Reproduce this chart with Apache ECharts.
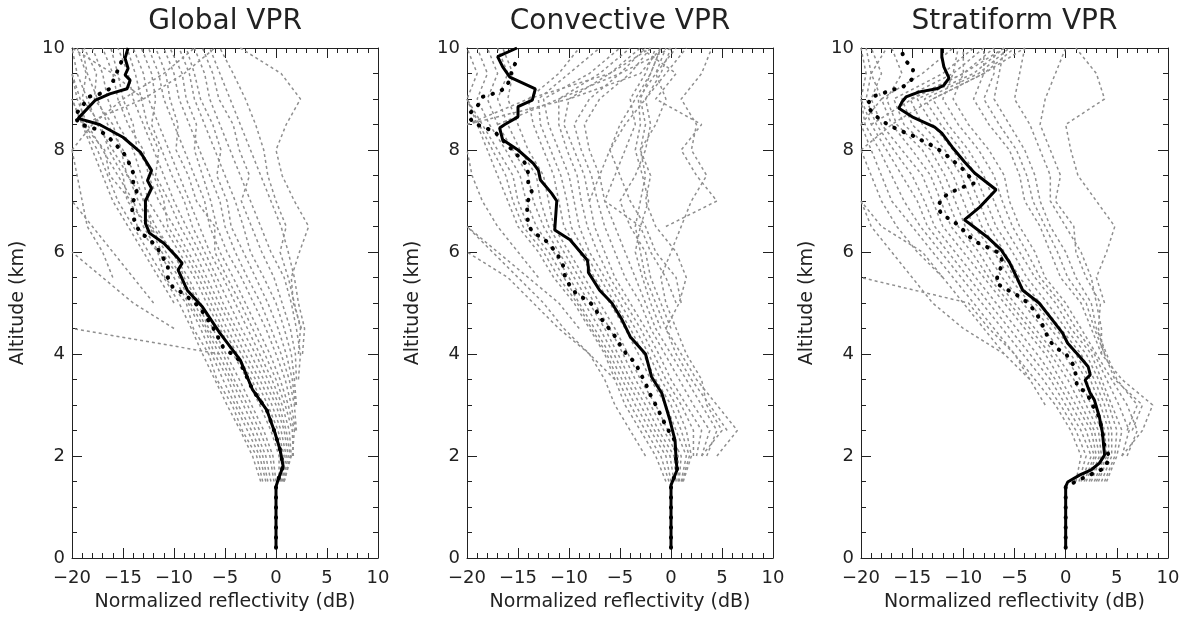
<!DOCTYPE html>
<html><head><meta charset="utf-8">
<script src="https://cdn.jsdelivr.net/npm/echarts@6/dist/echarts.min.js"></script>
<style>html,body{margin:0;padding:0;background:#fff}#c{width:1191px;height:618px}</style>
</head><body><div id="c"></div>
<script>
// ---------------- data ----------------
const PANEL_TITLES = ['Global VPR', 'Convective VPR', 'Stratiform VPR'];
const X_NAME = 'Normalized reflectivity (dB)';
const Y_NAME = 'Altitude (km)';
const X_RANGE = [-20, 10];
const Y_RANGE = [0, 10];

// altitude levels shared by the grey individual profiles (km)
const ALT_GREY = [1.5, 2, 2.5, 3, 3.5, 4, 4.5, 5, 5.5, 6, 6.5, 7, 7.5, 8, 8.5, 9, 9.5, 10];

// ---- Global VPR ----
const GLOBAL_GREY = [
  [-1.5,-2.3,-3.5,-4.8,-6.0,-7.2,-8.3,-9.5,-11,-12.5,-14,-15.5,-16.5,-17.5,-19,-20,null,null],
  [-1.3,-1.9,-3.3,-4.3,-5.8,-6.6,-8.1,-8.8,-10.9,-11.6,-13.6,-14.2,-16.3,-16.8,-18.9,-19.2,-20,null],
  [-1.0,-1.6,-2.8,-4.0,-5.2,-6.3,-7.4,-8.6,-10,-11.5,-13,-14,-15.5,-17,-18.5,-19.5,-20,null],
  [-0.8,-1.3,-2.4,-3.7,-4.7,-6.0,-7.0,-8.4,-9.5,-11.2,-12.4,-14.6,-15.0,-16.4,-17.2,-19.0,-18.6,-19.5],
  [-0.5,-1.0,-2.0,-3.2,-4.4,-5.6,-6.8,-8.0,-9.2,-10.8,-12.3,-13.5,-14.5,-16,-17.5,-18.5,-19.5,-20],
  [-0.2,-0.6,-1.6,-2.8,-4.1,-5.2,-6.6,-7.6,-9.0,-10.0,-12.2,-12.8,-14.6,-15.2,-16.0,-17.8,-17.6,-18.8],
  [0,-0.3,-1.2,-2.4,-3.6,-4.9,-6.2,-7.4,-8.6,-10.2,-11.8,-13,-13.8,-15,-16.5,-17.5,-18.5,-19],
  [0.3,0.3,-0.5,-1.6,-2.8,-4.2,-5.5,-6.8,-8.0,-9.5,-11,-12.5,-13.2,-14,-15.5,-16.5,-17,-18],
  [0.4,0.6,-0.1,-1.2,-2.4,-3.8,-5.2,-6.4,-7.6,-9.0,-10.6,-11.0,-12.0,-13.6,-14.0,-15.0,-15.5,-16.2],
  [0.5,0.8,0.2,-0.8,-2.0,-3.4,-4.8,-6.0,-7.2,-8.6,-10,-11.5,-12.5,-13,-14.5,-15.5,-16,-17],
  [0.6,1.0,0.5,-0.4,-1.6,-3.0,-4.3,-5.6,-6.8,-8.0,-9.4,-10.5,-11.8,-11.5,-12.6,-13.2,-13.8,-14.6],
  [0.7,1.2,0.8,0,-1.2,-2.5,-3.9,-5.2,-6.2,-7.5,-8.8,-10,-11,-12,-13,-14,-14.5,-15.5],
  [0.8,1.4,1.0,0.3,-0.8,-2.0,-3.4,-4.6,-5.8,-7.0,-8.2,-9.0,-10.2,-11.2,-12.2,-11.8,-12.2,-13.2],
  [0.8,1.5,1.3,0.6,-0.4,-1.6,-2.8,-4.0,-5.2,-6.5,-7.5,-8.5,-9.5,-10.5,-11.5,-12.5,-13,-14],
  [null,1.6,1.8,1.2,0.4,-0.6,-1.8,-3.0,-4.2,-5.5,-6.5,-7.0,-8.0,-9.0,-10,-11,-11.5,-12.5],
  [null,1.7,1.6,0.9,0.0,-1.1,-2.3,-3.5,-4.8,-6.0,-6.0,-7.8,-8.6,-9.8,-9.6,-10.4,-10.8,-11.8],
  [null,null,2.0,1.8,1.3,0.5,-0.5,-1.5,-2.8,-4.0,-5,-5.5,-6.5,-7.5,-8.5,-9.5,-10,-11],
  [null,null,1.9,1.5,0.9,0.0,-1.0,-2.2,-3.4,-4.8,-5.8,-6.4,-7.2,-8.0,-7.8,-8.8,-9.2,-10.4],
  [null,null,null,2.0,1.8,1.5,0.8,0,-1.2,-2.5,-3.2,-4,-5.0,-6.0,-7,-8,-8.5,-9.5],
  [null,null,null,1.9,1.6,1.0,0.2,-0.8,-2.0,-3.2,-4.4,-4.8,-5.8,-5.4,-6.2,-7.4,-8.0,-8.8],
  [null,null,null,null,2.2,2.4,2.0,1.5,0.8,-0.5,-1.5,-2.5,-3.5,-4.5,-5.5,-6.5,-7,-8],
  [null,null,null,null,2.0,1.9,1.4,0.6,-0.2,-1.4,-2.4,-3.4,-2.6,-3.6,-4.2,-5.6,-6.2,-7.2],
  [null,null,null,null,null,2.6,2.8,2.2,1.8,1.2,0.5,-0.5,-1.5,-2.5,-3.5,-4.5,-5.5,-6.5],
  [null,null,null,null,null,2.2,2.4,1.8,1.2,0.4,1.0,0.0,-0.8,-1.2,-2.0,-3.0,-4.2,-5.5],
  [null,null,null,null,null,null,2.5,1.7,1.5,2.3,3.2,1.8,0.6,0,1.0,2.4,0.5,-3.5],
  [null,null,null,null,null,-5.5,-20,null,null,null,null,null,null,null,null,null,null,null],
  [null,null,null,null,null,null,null,-12,-14,-16,-18,-20,null,null,null,null,null,null],
  [null,null,null,null,null,null,-10,-14,-17,-20,null,null,null,null,null,null,null,null],
  [null,null,null,null,null,null,null,-10,-11.5,-13,-14.5,-16,-17,-18,-19,-20,null,null],
  [null,null,null,null,null,null,null,null,-16,-17,-18.5,-19,-19.5,-20,null,null,null,null],
  [null,null,null,null,null,null,null,null,null,null,null,null,null,-20,-18,-15,-11,-8],
  [null,null,null,null,null,null,null,null,null,null,null,null,null,null,-19,-13,-9,-6],
  [null,null,null,null,null,null,null,null,null,null,null,null,null,null,null,-13,-16,-20]
];
const GLOBAL_MEAN_ALT = [0.2,1.4,1.53,1.8,2.12,2.45,2.9,3.3,3.88,4.41,4.92,5.25,5.65,5.78,5.9,6.17,6.37,6.56,7.0,7.25,7.4,7.6,7.96,8.25,8.5,8.62,8.98,9.1,9.2,9.37,9.47,9.6,9.8,10.0];
const GLOBAL_MEAN_X   = [0,0,0.2,0.7,0.4,-0.1,-0.9,-2.3,-3.5,-5.5,-7.2,-8.7,-9.6,-9.2,-9.7,-11.0,-12.4,-12.8,-12.8,-12.2,-12.6,-12.2,-13.3,-15.0,-17.3,-19.4,-17.7,-16.3,-14.6,-14.3,-14.8,-14.5,-14.8,-14.5];
const GLOBAL_MED_ALT = [0.2,1.4,1.53,1.8,2.12,2.45,2.9,3.3,3.88,4.14,4.53,4.92,5.06,5.2,5.3,5.5,5.7,5.9,6.1,6.27,6.37,6.56,6.76,6.96,7.15,7.35,7.55,7.7,7.9,8.06,8.25,8.4,8.45,8.53,8.69,8.85,9.04,9.1,9.2,9.57,9.76,9.9];
const GLOBAL_MED_X   = [0,0,0.2,0.7,0.4,-0.1,-0.9,-2.3,-3.6,-5.2,-6.2,-7.5,-8.3,-9.2,-10.1,-10.6,-10.6,-11.1,-11.7,-12.5,-13.3,-13.8,-14.1,-14.1,-13.6,-14.0,-14.0,-14.3,-14.8,-15.5,-16.4,-17.4,-18.4,-19.4,-19.7,-19.0,-18.4,-17.3,-16.3,-15.5,-15.1,-14.9];

// ---- Convective VPR ----
const CONV_GREY = [
  [-0.5,-1.5,-3,-4.5,-5.5,-6.5,-8,-9.5,-11.5,-13,-15,-16,-17,-18,-19,-20,null,null],
  [-0.2,-1.0,-2.5,-4.0,-5.2,-6.3,-7.8,-9.2,-11,-12.5,-14.5,-15.5,-16.2,-17.5,-18.8,-20,null,null],
  [0,-0.5,-2,-3.5,-4.8,-6,-7.5,-9,-10.5,-12,-14,-15,-15.5,-17,-18.5,-20,-19,-20],
  [0.3,-0.1,-1.6,-3.0,-4.4,-5.6,-7.0,-8.5,-10,-11.5,-13.2,-14.2,-14.8,-16.2,-17.8,-19,-18,-19],
  [0.5,0.3,-1.2,-2.5,-4,-5.2,-6.5,-8,-9.5,-11,-12.5,-13.5,-14,-15.5,-17,-18,-17,-18],
  [0.7,0.7,-0.7,-2.0,-3.5,-4.7,-6.0,-7.5,-9,-10.5,-12,-12.8,-13.2,-14.8,-16,-17,-16,-17],
  [0.8,1.0,-0.3,-1.5,-3,-4.2,-5.5,-7,-8.5,-10,-11.5,-12,-12.5,-14,-15,-16,-15.5,-16.5],
  [1.0,1.5,0.5,-0.5,-2,-3.2,-4.5,-6,-7.5,-9,-10.5,-11,-11.5,-12.5,-13.5,-14,-11,-9],
  [1.1,1.8,1.0,0.0,-1.5,-2.7,-4.0,-5.5,-7,-8.5,-9.8,-10.2,-10.8,-11.8,-12.8,-13,-10,-7],
  [1.2,2.0,1.5,0.5,-1,-2.2,-3.5,-5,-6.5,-8,-9,-9.5,-10,-11,-12,-12.5,-8,-5],
  [null,2.2,2.2,1.0,-0.5,-1.7,-3.0,-4.5,-6,-7.2,-8.2,-8.8,-9.2,-10.2,-11,-11,-7,-4],
  [null,2.5,3.0,1.5,0,-1.2,-2.5,-4,-5.5,-6.5,-7.5,-8,-8.5,-9.5,-10.5,-10,-6,-3],
  [null,3.0,3.8,2.2,0.8,-0.6,-2.0,-3.0,-4.5,-5.5,-6.5,-7.2,-7.8,-8.8,-9.5,-8,-5,-2.5],
  [null,3.5,4.5,3.0,1.5,0,-1.5,-2.5,-3.5,-4.5,-5.5,-6.5,-7,-8,-8.5,-7,-4,-2],
  [null,4.5,6.5,4.5,2.5,1.0,-0.5,-1.5,-2.5,-3,-3.5,-3,-2.5,-3,-2.5,-3,-2,-1],
  [null,3.0,5.0,3.5,3.0,1.5,0.5,-0.5,-1.0,0.0,1.0,2.0,3.5,2.0,2.5,1.0,3.0,4.0],
  [null,null,5.5,3.8,2.0,0.5,-0.5,0.8,1.5,0.5,-1.5,-2.5,-2,-3,-1.5,-0.5,-1.5,-0.5],
  [null,null,null,null,null,null,-1.0,-2.0,-2.8,-3.5,-3.0,-2.2,-2.8,-3.5,-3.0,-3.2,-1.5,0.5],
  [null,null,null,null,null,null,0,-1.0,-2.0,-2.5,-4.0,-5.0,-3.5,-2.5,-2.0,-2.5,-0.5,1.5],
  [null,null,null,null,null,null,null,0.5,-0.5,-2.0,-3.0,-6.5,-5.5,-4.5,-3.5,-4.0,-2.5,-1.5],
  [null,null,null,null,null,null,null,1.0,0.5,-1.5,-2.5,-4,-5,-6,-4.5,-2.5,-1,0],
  [null,null,null,null,null,null,null,null,null,null,null,-8,-7,-6,-5,-3.5,-2,-1],
  [null,null,null,null,null,null,null,null,null,null,-0.5,4.5,2.5,1.0,3.0,-1.5,0.5,-3],
  [null,null,null,null,null,null,null,null,null,null,null,null,null,null,-20,-10,-3,-1],
  [null,null,null,null,null,null,null,null,null,null,null,null,null,null,-20,-14,-6,-2],
  [null,null,null,null,null,null,null,null,null,null,null,null,null,null,-17,-11,-5,0],
  [null,-2.5,-4.0,-5.5,-6.5,-8.0,-10.5,-12.5,-15,-17.5,-20,null,null,null,null,null,null,null],
  [null,null,null,null,-5.5,-8,-11,-13.5,-16,-20,null,null,null,null,null,null,null,null],
  [null,null,null,null,null,null,-9,-11,-14,-17,-20,null,null,null,null,null,null,null],
  [null,null,null,null,null,null,null,null,-13,-15,-17,-18.5,-19.5,-20,null,null,null,null]
];
const CONV_MEAN_ALT = [0.2,1.43,1.53,1.73,1.92,2.3,2.7,3.23,3.55,4.0,4.34,4.67,5.0,5.25,5.6,5.7,5.84,6.24,6.43,7.0,7.15,7.41,7.6,7.74,8.0,8.2,8.43,8.5,8.65,8.85,8.98,9.2,9.43,9.63,9.83,10.0];
const CONV_MEAN_X   = [0,0,0.2,0.6,0.5,0.4,-0.1,-0.9,-1.9,-2.5,-4.0,-4.8,-5.8,-7.0,-8.1,-8.1,-8.2,-9.9,-11.4,-11.2,-11.7,-12.8,-13.0,-13.5,-15.0,-16.5,-16.8,-16.3,-15.0,-15.0,-13.6,-13.3,-15.8,-16.5,-17.0,-15.1];
const CONV_MED_ALT = [0.2,1.43,1.53,1.73,1.92,2.3,2.45,2.63,2.84,3.04,3.23,3.43,3.62,3.83,3.98,4.18,4.35,4.53,4.73,4.92,5.06,5.16,5.33,5.53,5.75,5.94,6.1,6.27,6.37,6.53,6.76,6.98,7.16,7.35,7.55,7.74,8.36,8.45,8.53,8.69,8.85,9.04,9.1,9.2,9.37,9.57,9.76];
const CONV_MED_X   = [0,0,0.2,0.6,0.5,0.4,-0.1,-0.6,-1.1,-1.6,-2.1,-2.5,-3.0,-3.5,-4.3,-5.0,-5.5,-6.2,-7.0,-7.5,-8.2,-9.2,-9.9,-10.4,-10.6,-11.1,-11.7,-12.5,-13.5,-14.0,-14.1,-14.1,-13.6,-14.0,-14.0,-14.3,-17.3,-18.4,-19.4,-19.9,-19.0,-18.5,-17.5,-16.3,-15.8,-15.6,-15.1];

// ---- Stratiform VPR ----
const STRAT_GREY = [
  [1.0,1.5,0.5,-1,-3,-5,-7,-9,-11,-13,-15,-17,-18,-19,-20,null,null,null],
  [1.3,2.0,1.0,-0.5,-2.2,-4.2,-6.2,-8.2,-10.2,-12.2,-14.2,-15.8,-17,-18.2,-19.6,-20,null,null],
  [1.5,2.5,1.5,0,-1.5,-3.5,-5.5,-7.5,-9.5,-11.5,-13.5,-14.5,-16,-17.5,-19,-20,-19.5,-20],
  [1.8,2.8,2.0,0.5,-1.0,-2.8,-4.8,-6.8,-8.8,-10.8,-12.8,-13.8,-15,-16.8,-18.5,-19.5,-19,-19.5],
  [2.0,3.0,2.5,1.0,-0.5,-2,-4,-6,-8,-10,-12,-13,-14,-16,-18,-19,-18,-19],
  [2.3,3.3,2.8,1.5,0.2,-1.5,-3.5,-5.5,-7.5,-9.2,-11.2,-12.2,-13.2,-15,-17,-18,-14,-11],
  [2.5,3.5,3.2,2.0,0.8,-1,-3,-5,-7,-8.5,-10.5,-11.5,-12.5,-14,-16.5,-17.5,-16,-17],
  [2.8,3.8,3.5,2.5,1.4,-0.2,-2.2,-4.2,-6.2,-7.8,-9.8,-10.8,-11.8,-13.2,-15.8,-16.8,-12,-9],
  [3.0,4.0,3.8,3.0,2.0,0.5,-1.5,-3.5,-5.5,-7,-9,-10,-11,-12.5,-15,-16,-11,-8],
  [3.2,4.2,4.2,3.4,2.4,1.0,-1.0,-3.0,-5.0,-6.5,-8.2,-9.2,-10.2,-11.8,-14,-15.2,-10,-7],
  [3.5,4.5,4.5,3.8,2.8,1.5,-0.5,-2.5,-4.5,-6,-7.5,-8.5,-9.5,-11,-13,-14.5,-9,-6],
  [3.8,4.8,5.0,4.2,3.2,2.0,0,-1.8,-3.8,-5.2,-6.8,-7.8,-8.8,-10.2,-12.2,-13.8,-8.5,-5.5],
  [4.0,5.0,5.5,4.5,3.5,2.5,0.5,-1,-3,-4.5,-6,-7,-8,-9.5,-11.5,-13,-8,-5],
  [null,5.5,6.2,5.2,4.0,2.8,1.0,-0.5,-2.5,-3.8,-5.2,-6.2,-7.0,-8.5,-10.5,-12,-11,-10.5],
  [null,6.0,7.0,6.0,4.5,3.0,1.5,0,-2,-3,-4.5,-5.5,-6,-7.5,-9.5,-11,-10,-10],
  [null,5.5,7.5,8.5,5.5,3.5,2.5,1.5,-0.5,-1.5,-2.5,-4,-4.5,-5.5,-7.5,-9,-8,-8],
  [null,null,6.5,7.5,4.8,3.8,2.8,2.0,0.2,-0.8,-2.0,-3.2,-3.8,-4.8,-6.5,-8,-7,-7],
  [null,null,6.0,7.0,5.0,4.0,3.0,2.5,1.0,0,-1.5,-2.5,-3,-4,-5.5,-7,-6.5,-6],
  [null,null,null,null,null,3.5,3.5,3.0,2.5,1.5,0,-1.5,-1.5,-2.5,-3.5,-5,-4.5,-4],
  [null,null,null,null,null,3.8,3.2,3.4,2.0,1.0,0.8,-1.0,-0.5,-1.5,-2.5,-2.0,-1,0],
  [null,null,null,null,null,null,null,3.8,3.0,4.0,4.8,3.0,1.2,0.5,0.0,3.8,3.0,1.0],
  [null,null,null,null,null,-6,-8,-10,-12,-14,-18,-20,null,null,null,null,null,null],
  [null,null,null,null,-3.5,-5,-7.5,-9.5,-20,null,null,null,null,null,null,null,null,null],
  [null,null,null,-2,-3.5,-6,-10,-13,-15,-17,-19,-20,null,null,null,null,null,null],
  [null,null,null,null,null,null,null,null,-12,-14.5,-16.5,-18,-19,-20,null,null,null,null],
  [null,null,null,null,null,null,null,null,null,null,null,null,null,-20,-17,-13,-8,-4],
  [null,null,null,null,null,null,null,null,null,null,null,null,null,null,-19,-15,-10,-6],
  [null,null,null,null,null,null,null,null,null,null,null,null,null,null,-20,-18,-19,-17.5]
];
const STRAT_MEAN_ALT = [0.2,1.4,1.49,1.63,1.73,1.86,2.02,2.45,2.76,3.1,3.23,3.49,3.59,3.75,3.94,4.21,4.41,4.67,5.0,5.25,5.51,5.8,6.04,6.3,6.56,6.63,6.88,7.22,7.55,7.77,8.06,8.33,8.45,8.65,8.82,8.94,9.04,9.14,9.2,9.27,9.41,9.63,9.83,10.0];
const STRAT_MEAN_X   = [0,0,0.2,1.4,2.5,3.3,3.8,3.6,3.3,2.8,2.4,1.9,2.4,2.2,1.4,0.2,-0.3,-1.3,-2.6,-4.2,-4.8,-5.5,-6.3,-7.7,-9.4,-9.9,-8.4,-6.8,-8.9,-9.9,-11.1,-12.1,-12.8,-15.0,-16.3,-16.0,-15.6,-14.3,-12.6,-11.9,-11.4,-11.9,-12.1,-12.1];
const STRAT_MED_ALT = [0.2,1.4,1.49,1.57,1.67,1.76,1.98,2.18,2.45,2.76,3.04,3.23,3.37,3.59,3.8,3.98,4.12,4.26,4.45,4.67,4.84,5.02,5.16,5.27,5.39,5.59,5.78,5.98,6.08,6.17,6.3,6.47,6.61,6.73,6.88,7.06,7.18,7.27,7.35,7.6,7.77,7.94,8.06,8.16,8.27,8.35,8.45,8.55,8.69,8.86,9.04,9.1,9.18,9.22,9.39,9.6,9.76,9.92];
const STRAT_MED_X   = [0,0,0.9,1.7,2.8,3.8,4.3,3.8,3.6,3.3,2.5,2.1,1.1,1.0,0.7,0.1,-0.9,-1.6,-2.0,-2.5,-3.0,-3.8,-4.8,-5.8,-6.8,-6.6,-6.1,-6.5,-7.5,-8.5,-9.4,-10.2,-11.0,-12.1,-12.5,-12.1,-11.1,-10.1,-8.9,-9.9,-10.9,-11.9,-12.8,-13.8,-14.8,-15.8,-16.9,-17.8,-18.7,-19.4,-19.0,-18.0,-17.0,-16.0,-15.0,-14.9,-15.7,-16.0];

// ---------------- chart ----------------
const PANELS = [
  {grey: GLOBAL_GREY, meanAlt: GLOBAL_MEAN_ALT, meanX: GLOBAL_MEAN_X, medAlt: GLOBAL_MED_ALT, medX: GLOBAL_MED_X},
  {grey: CONV_GREY, meanAlt: CONV_MEAN_ALT, meanX: CONV_MEAN_X, medAlt: CONV_MED_ALT, medX: CONV_MED_X},
  {grey: STRAT_GREY, meanAlt: STRAT_MEAN_ALT, meanX: STRAT_MEAN_X, medAlt: STRAT_MED_ALT, medX: STRAT_MED_X}
];
const GRID_POS = [
  {left: 72, top: 48, width: 306, height: 510},
  {left: 467, top: 48, width: 306, height: 510},
  {left: 861, top: 48, width: 307, height: 510}
];
const FONT = 'DejaVu Sans';
const INK = '#222';
const minus = v => (v < 0 ? '\u2212' + Math.abs(v) : String(v));

const grid = [], xAxis = [], yAxis = [], series = [], title = [];
GRID_POS.forEach((g, i) => {
  grid.push(Object.assign({containLabel: false}, g));
  title.push({
    text: PANEL_TITLES[i], left: g.left + g.width / 2, top: 8, textAlign: 'center', padding: 0,
    textStyle: {fontFamily: FONT, fontSize: 28, fontWeight: 'normal', color: INK}
  });
  const tickCommon = {
    axisLine: {show: true, onZero: false, lineStyle: {color: INK, width: 1}},
    axisTick: {show: true, inside: true, length: 10, lineStyle: {color: INK, width: 1}},
    minorTick: {show: true, length: 5, lineStyle: {color: INK, width: 1}},
    splitLine: {show: false}
  };
  xAxis.push(Object.assign({}, tickCommon, {
    gridIndex: i, type: 'value', position: 'bottom', min: X_RANGE[0], max: X_RANGE[1], interval: 5,
    minorTick: Object.assign({}, tickCommon.minorTick, {splitNumber: 5}),
    axisLabel: {formatter: minus, fontFamily: FONT, fontSize: 18, color: INK, margin: 11},
    name: X_NAME, nameLocation: 'middle', nameGap: 35,
    nameTextStyle: {fontFamily: FONT, fontSize: 19, color: INK}
  }));
  xAxis.push(Object.assign({}, tickCommon, {
    gridIndex: i, type: 'value', position: 'top', min: X_RANGE[0], max: X_RANGE[1], interval: 5,
    minorTick: Object.assign({}, tickCommon.minorTick, {splitNumber: 5}),
    axisLabel: {show: false}
  }));
  yAxis.push(Object.assign({}, tickCommon, {
    gridIndex: i, type: 'value', position: 'left', min: Y_RANGE[0], max: Y_RANGE[1], interval: 2,
    minorTick: Object.assign({}, tickCommon.minorTick, {splitNumber: 4}),
    axisLabel: {fontFamily: FONT, fontSize: 18, color: INK, margin: 7},
    name: Y_NAME, nameLocation: 'middle', nameGap: 44,
    nameTextStyle: {fontFamily: FONT, fontSize: 19, color: INK}
  }));
  yAxis.push(Object.assign({}, tickCommon, {
    gridIndex: i, type: 'value', position: 'right', min: Y_RANGE[0], max: Y_RANGE[1], interval: 2,
    minorTick: Object.assign({}, tickCommon.minorTick, {splitNumber: 4}),
    axisLabel: {show: false}
  }));

  const p = PANELS[i];
  p.grey.forEach(prof => {
    const data = [];
    prof.forEach((x, k) => { if (x !== null) data.push([x, ALT_GREY[k]]); });
    series.push({
      type: 'line', xAxisIndex: 2 * i, yAxisIndex: 2 * i, data, showSymbol: false, silent: true,
      lineStyle: {color: '#8f8f8f', width: 1.5, type: [3, 3]}, z: 1
    });
  });
  series.push({
    type: 'line', xAxisIndex: 2 * i, yAxisIndex: 2 * i, showSymbol: false, silent: true,
    data: p.medX.map((x, k) => [x, p.medAlt[k]]),
    lineStyle: {color: '#000', width: 4, type: [0.5, 9.5], cap: 'round'}, z: 3
  });
  series.push({
    type: 'line', xAxisIndex: 2 * i, yAxisIndex: 2 * i, showSymbol: false, silent: true,
    data: p.meanX.map((x, k) => [x, p.meanAlt[k]]),
    lineStyle: {color: '#000', width: 3}, z: 4
  });
});

const chart = echarts.init(document.getElementById('c'), null, {renderer: 'canvas'});
chart.setOption({backgroundColor: '#fff', animation: false, title, grid, xAxis, yAxis, series});
</script></body></html>
